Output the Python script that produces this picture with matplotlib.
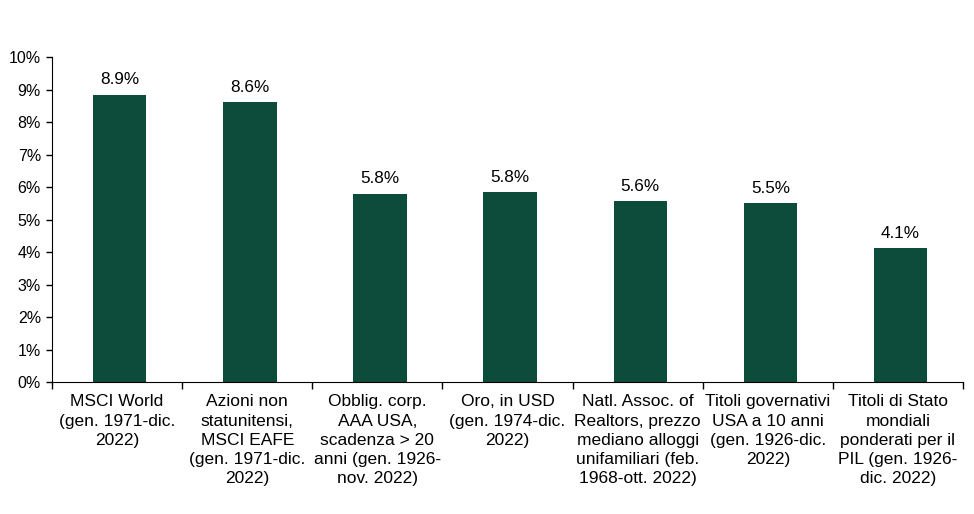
import matplotlib
matplotlib.use("Agg")
import matplotlib.pyplot as plt
import numpy as np

plt.rcParams['font.family'] = ['Liberation Sans', 'DejaVu Sans']

categories = [
    "MSCI World\n(gen. 1971-dic.\n2022)",
    "Azioni non\nstatunitensi,\nMSCI EAFE\n(gen. 1971-dic.\n2022)",
    "Obblig. corp.\nAAA USA,\nscadenza > 20\nanni (gen. 1926-\nnov. 2022)",
    "Oro, in USD\n(gen. 1974-dic.\n2022)",
    "Natl. Assoc. of\nRealtors, prezzo\nmediano alloggi\nunifamiliari (feb.\n1968-ott. 2022)",
    "Titoli governativi\nUSA a 10 anni\n(gen. 1926-dic.\n2022)",
    "Titoli di Stato\nmondiali\nponderati per il\nPIL (gen. 1926-\ndic. 2022)",
]
values = [8.85, 8.62, 5.8, 5.85, 5.57, 5.5, 4.12]
labels = ["8.9%", "8.6%", "5.8%", "5.8%", "5.6%", "5.5%", "4.1%"]

fig = plt.figure(figsize=(9.74, 5.14), dpi=100)
ax = fig.add_axes([0.0534, 0.2568, 0.9353, 0.632])

x = np.arange(len(values))
ax.bar(x + 0.02, values, width=0.41, color="#0d4c3a")
for xi, v, lab in zip(x, values, labels):
    ax.text(xi + 0.02, v + 0.22, lab, ha="center", va="bottom", fontsize=12.3)

ax.set_xlim(-0.5, len(values) - 0.5)
ax.set_ylim(0, 10)
ax.set_yticks(range(0, 11))
ax.set_yticklabels([f"{i}%" for i in range(0, 11)], fontsize=11.5)
ax.tick_params(axis="y", length=4, width=1, pad=4)

ax.set_xticks(np.arange(-0.5, len(values)))
ax.set_xticklabels([])
ax.tick_params(axis="x", direction="out", length=5, width=1)
for xi, cat in zip(x, categories):
    ax.text(xi, -0.38, cat, ha="center", va="top", fontsize=12.5,
            linespacing=1.35)

for s in ["top", "right"]:
    ax.spines[s].set_visible(False)

fig.savefig("out.png", dpi=100)
